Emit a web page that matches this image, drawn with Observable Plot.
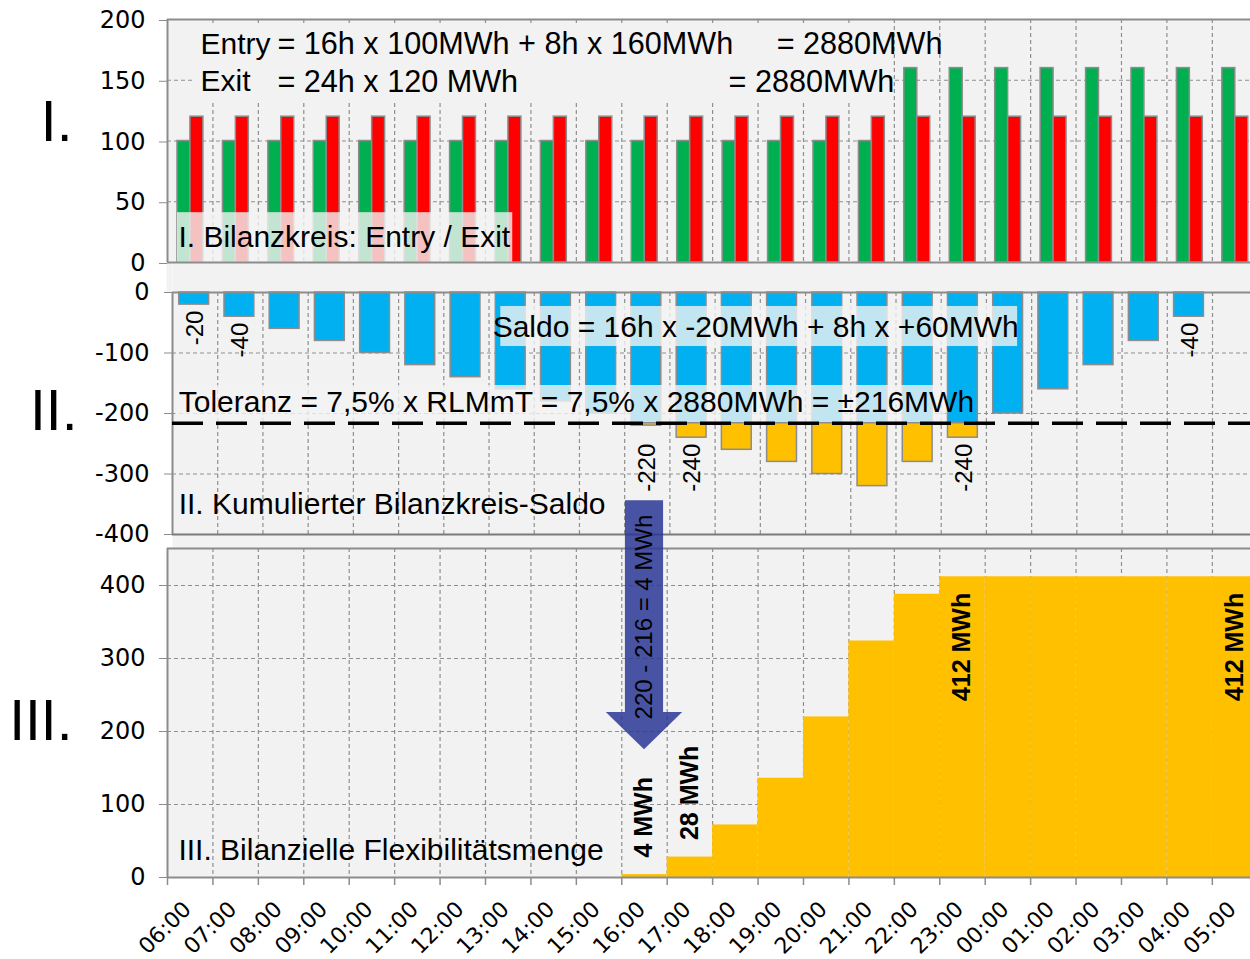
<!DOCTYPE html>
<html>
<head>
<meta charset="utf-8">
<script src="https://cdn.jsdelivr.net/npm/d3@7"></script>
<script src="https://cdn.jsdelivr.net/npm/@observablehq/plot@0.6"></script>
<style>
  body { margin: 0; background: #ffffff; }
  #chart { position: relative; width: 1250px; height: 959px; overflow: hidden; }
</style>
</head>
<body>
<div id="chart"></div>
<script>
// ---------- data ----------
const hours = ["06:00","07:00","08:00","09:00","10:00","11:00","12:00","13:00","14:00","15:00","16:00","17:00",
               "18:00","19:00","20:00","21:00","22:00","23:00","00:00","01:00","02:00","03:00","04:00","05:00"];
const entryMWh = [100,100,100,100,100,100,100,100,100,100,100,100,100,100,100,100,160,160,160,160,160,160,160,160];
const exitMWh  = [120,120,120,120,120,120,120,120,120,120,120,120,120,120,120,120,120,120,120,120,120,120,120,120];
const saldoCum = [-20,-40,-60,-80,-100,-120,-140,-160,-180,-200,-220,-240,-260,-280,-300,-320,-280,-240,-200,-160,-120,-80,-40,0];
const flexMWh  = [0,0,0,0,0,0,0,0,0,0,4,28,72,136,220,324,388,412,412,412,412,412,412,412];
const toleranz = -216;
const saldoLabelIdx = [0, 1, 10, 11, 17, 22];
const flexLabelAbove = [10, 11];
const flexLabelInside = [17, 23];
const yTicksI = [0, 50, 100, 150, 200];
const yTicksII = [0, -100, -200, -300, -400];
const yTicksIII = [0, 100, 200, 300, 400];

const titleI = "I. Bilanzkreis: Entry / Exit";
const titleII = "II. Kumulierter Bilanzkreis-Saldo";
const titleIII = "III. Bilanzielle Flexibilitätsmenge";
const entryLabel = "Entry", entryFormula = "= 16h x 100MWh + 8h x 160MWh";
const exitLabel = "Exit", exitFormula = "= 24h x 120 MWh";
const sumText = "= 2880MWh";
const saldoText = "Saldo = 16h x -20MWh + 8h x +60MWh";
const tolText = "Toleranz = 7,5% x RLMmT = 7,5% x 2880MWh = ±216MWh";
const arrowText = "220 - 216 = 4 MWh";

// ---------- helpers ----------
const rows = hours.map((h, i) => ({i, h, entry: entryMWh[i], exit: exitMWh[i], saldo: saldoCum[i], flex: flexMWh[i]}));
const W = 1250, XMAX = 23.84;
const ANNO = "'Liberation Sans', Arial, sans-serif";
const TICKF = "'DejaVu Sans', sans-serif";
const GRID = {stroke: "#8f8f8f", strokeWidth: 1.2, strokeDasharray: "4,3"};
const EDGE = {stroke: "#8c8c8c", strokeWidth: 2};
const BAR = {stroke: "#8c8c8c", strokeWidth: 1.5};
const BOX = {fill: "#f2f2f2", fillOpacity: 0.8};
const gridX = d3.range(1, 24);
const c = v => () => v;
function txt(data, o) {
  return Plot.text(data, {fontFamily: ANNO, fontSize: 30, fill: "#000", textAnchor: "start", lineAnchor: "middle", text: d => d, ...o});
}
function baseStyle(top) {
  return {position: "absolute", left: "0px", top: top + "px", background: "transparent",
          fontFamily: TICKF, fontSize: "24px", color: "#000", overflow: "visible"};
}
function roman(label, yv) {
  return Plot.text([label], {frameAnchor: "left", y: c(yv), dx: -95, text: d => d, textAnchor: "end",
                             lineAnchor: "middle", fontSize: 57, fontFamily: ANNO, fill: "#000"});
}

// ---------- Panel I ----------
const p1 = Plot.plot({
  width: W, height: 263, marginTop: 19, marginBottom: 1, marginLeft: 167, marginRight: 0,
  x: {domain: [0, XMAX], axis: null},
  y: {domain: [0, 200]},
  style: baseStyle(0),
  marks: [
    Plot.frame({fill: "#f2f2f2", stroke: "none"}),
    Plot.ruleX(gridX, GRID),
    Plot.ruleY([50, 100, 150], GRID),
    Plot.rect([0], {x1: c(0.6), x2: c(15.9), y1: c(131), y2: c(195), fill: "#f2f2f2"}),
    Plot.rect(rows, {x1: d => d.i + 0.22, x2: d => d.i + 0.505, y1: c(0), y2: "entry", fill: "#00b050", ...BAR}),
    Plot.rect(rows, {x1: d => d.i + 0.505, x2: d => d.i + 0.79, y1: c(0), y2: "exit", fill: "#ff0000", ...BAR}),
    Plot.rect([0], {x1: c(0.22), x2: c(7.6), y1: c(0), y2: c(41), ...BOX}),
    txt([titleI], {x: c(0.24), y: c(20.6)}),
    txt([entryLabel], {x: c(0.727), y: c(179.7)}),
    txt([entryFormula], {x: c(2.42), y: c(179.7), fontSize: 30.6}),
    txt([sumText], {x: c(13.41), y: c(179.7), fontSize: 30.6}),
    txt([exitLabel], {x: c(0.727), y: c(148.8)}),
    txt([exitFormula], {x: c(2.42), y: c(148.8), fontSize: 30.6}),
    txt([sumText], {x: c(12.35), y: c(148.8), fontSize: 30.6}),
    Plot.ruleY([0, 200], EDGE),
    Plot.ruleX([0], {...EDGE, y1: c(0), y2: c(200)}),
    Plot.axisY({ticks: yTicksI, tickSize: 8, tickPadding: 14, stroke: "#8c8c8c", fill: "#000", label: null, dy: 1}),
    roman("I.", 114.8)
  ]
});

// ---------- Panel II ----------
const p2 = Plot.plot({
  width: W, height: 286, marginTop: 0, marginBottom: 0, marginLeft: 172, marginRight: 0,
  x: {domain: [0, XMAX], axis: null},
  y: {domain: [-423.1, 49.6]},
  style: baseStyle(262),
  marks: [
    Plot.frame({fill: "#f2f2f2", stroke: "none"}),
    Plot.rect([0], {x1: c(-0.12), x2: c(0), y1: c(0), y2: c(49.6), fill: "#f2f2f2"}),
    Plot.ruleX(gridX, {...GRID, y1: c(-400), y2: c(0)}),
    Plot.ruleY([-100, -200, -300], GRID),
    Plot.rect(rows, {x1: d => d.i + 0.15, x2: d => d.i + 0.81, y1: c(0), y2: d => Math.max(d.saldo, toleranz), fill: "#00b0f0", ...BAR}),
    Plot.rect(rows.filter(d => d.saldo < toleranz), {x1: d => d.i + 0.15, x2: d => d.i + 0.81, y1: c(toleranz), y2: "saldo", fill: "#ffc000", ...BAR}),
    Plot.rect([0], {x1: c(7.26), x2: c(18.69), y1: c(-89.3), y2: c(-23.1), ...BOX}),
    Plot.rect([0], {x1: c(0.07), x2: c(17.1), y1: c(-214.9), y2: c(-153.7), ...BOX}),
    txt([saldoText], {x: c(7.08), y: c(-57.3)}),
    txt([tolText], {x: c(0.137), y: c(-181.3)}),
    txt([titleII], {x: c(0.137), y: c(-350.4)}),
    Plot.ruleY([0], EDGE),
    Plot.ruleY([-400], {stroke: "#7a7a7a", strokeWidth: 2}),
    Plot.ruleX([0], {...EDGE, y1: c(-400), y2: c(0)}),
    Plot.ruleY([toleranz], {stroke: "#000", strokeWidth: 3.5, strokeDasharray: "31,13"}),
    Plot.text(saldoLabelIdx.map(i => rows[i]), {
      x: d => d.i + 0.5, y: d => d.saldo > toleranz ? d.saldo : Math.min(d.saldo, -240),
      text: d => String(d.saldo), rotate: -90, textAnchor: "end", lineAnchor: "middle", dy: 6,
      fontSize: 24, fontFamily: ANNO, fill: "#000"
    }),
    Plot.axisY({ticks: yTicksII, tickFormat: d => String(d), tickSize: 8, tickPadding: 15, stroke: "#8c8c8c", fill: "#000", label: null, dy: 0}),
    roman("II.", -196.7)
  ]
});

// ---------- Panel III ----------
const Y3MAX = 450.7;
const arrow = {x: 10.5, bodyHalf: 0.42, headHalf: 0.84, top: 516, base: 226, tip: 175};
const edgeY = x => arrow.tip + (arrow.base - arrow.tip) * Math.abs(x - arrow.x) / arrow.headHalf;
const arrowPts = [
  {x: arrow.x - arrow.headHalf, y1: arrow.base, y2: arrow.base},
  {x: arrow.x - arrow.bodyHalf, y1: edgeY(arrow.x - arrow.bodyHalf), y2: arrow.base},
  {x: arrow.x - arrow.bodyHalf, y1: edgeY(arrow.x - arrow.bodyHalf), y2: arrow.top},
  {x: arrow.x, y1: arrow.tip, y2: arrow.top},
  {x: arrow.x + arrow.bodyHalf, y1: edgeY(arrow.x + arrow.bodyHalf), y2: arrow.top},
  {x: arrow.x + arrow.bodyHalf, y1: edgeY(arrow.x + arrow.bodyHalf), y2: arrow.base},
  {x: arrow.x + arrow.headHalf, y1: arrow.base, y2: arrow.base}
];

const p3 = Plot.plot({
  width: W, height: 469, marginTop: 58, marginBottom: 82, marginLeft: 167, marginRight: 0,
  x: {domain: [0, XMAX], axis: null},
  y: {domain: [0, Y3MAX]},
  style: baseStyle(490),
  marks: [
    Plot.frame({fill: "#f2f2f2", stroke: "none"}),
    Plot.ruleX(gridX, GRID),
    Plot.ruleY([100, 200, 300, 400], GRID),
    Plot.rect(rows.filter(d => d.flex > 0), {x1: "i", x2: d => d.i + 1, y1: c(0), y2: "flex", fill: "#ffc000"}),
    txt([titleIII], {x: c(0.24), y: c(37.7)}),
    Plot.ruleY([0, Y3MAX], EDGE),
    Plot.ruleX([0], {...EDGE, y1: c(0), y2: c(Y3MAX)}),
    Plot.ruleX(rows, {x: "i", y1: c(0), y2: c(-11), stroke: "#8c8c8c", strokeWidth: 1.5}),
    Plot.text(rows, {x: "i", y: c(0), text: "h", rotate: -45, textAnchor: "end", lineAnchor: "middle",
                     dx: 20, dy: 28, fontSize: 22, fontFamily: TICKF, fill: "#000"}),
    Plot.text(flexLabelAbove.map(i => rows[i]), {x: d => d.i + 0.5, y: "flex", text: d => `${d.flex} MWh`, rotate: -90,
      textAnchor: "start", lineAnchor: "middle", dy: -17, fontSize: 25, fontWeight: "bold", fontFamily: ANNO, fill: "#000"}),
    Plot.text(flexLabelInside.map(i => rows[i]), {x: d => d.i + 0.5, y: "flex", text: d => `${d.flex} MWh`, rotate: -90,
      textAnchor: "end", lineAnchor: "middle", dy: 16, fontSize: 25, fontWeight: "bold", fontFamily: ANNO, fill: "#000"}),
    Plot.areaY(arrowPts, {x: "x", y1: "y1", y2: "y2", fill: "#2b3795", fillOpacity: 0.85}),
    Plot.text([arrowText], {x: c(arrow.x), y: c(356.8), text: d => d, rotate: -90, textAnchor: "middle", lineAnchor: "middle",
      fontSize: 24, fontFamily: ANNO, fill: "#000"}),
    Plot.axisY({ticks: yTicksIII, tickSize: 8, tickPadding: 14, stroke: "#8c8c8c", fill: "#000", label: null, dy: 0}),
    roman("III.", 213.7)
  ]
});

const chart = document.getElementById("chart");
chart.appendChild(p2);
chart.appendChild(p1);
chart.appendChild(p3);
</script>
</body>
</html>
